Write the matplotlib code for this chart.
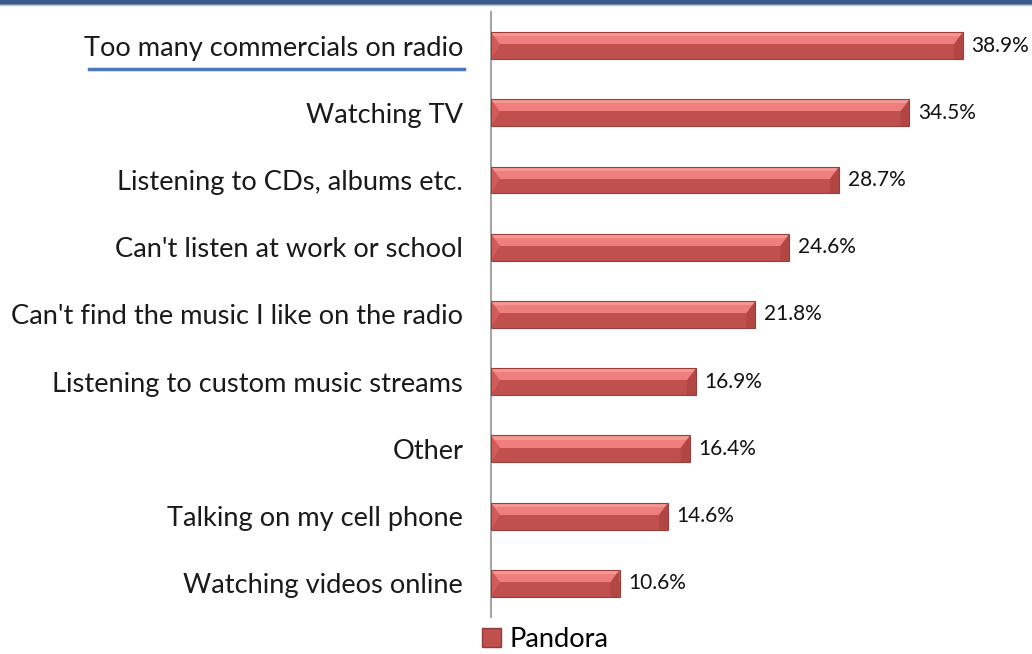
import numpy as np
import matplotlib
matplotlib.use("Agg")
import matplotlib.pyplot as plt
from matplotlib.patches import Polygon, Rectangle
from matplotlib.lines import Line2D

categories = [
    "Too many commercials on radio",
    "Watching TV",
    "Listening to CDs, albums etc.",
    "Can't listen at work or school",
    "Can't find the music I like on the radio",
    "Listening to custom music streams",
    "Other",
    "Talking on my cell phone",
    "Watching videos online",
]
values = [38.9, 34.5, 28.7, 24.6, 21.8, 16.9, 16.4, 14.6, 10.6]
series_name = "Pandora"

plt.rcParams['font.family'] = ['Lato', 'DejaVu Sans']

fig = plt.figure(figsize=(10.32, 6.54), dpi=100)
ax = fig.add_axes([491 / 1032, 37 / 654, 1 - 491 / 1032, 605 / 654])

y = np.arange(len(categories))
h = 0.40
bevel = 0.75  # bevel width in data units

for yi, v in zip(y, values):
    top, bot = yi - h / 2, yi + h / 2
    # base (darker lower half)
    ax.add_patch(Rectangle((0, top), v, h, facecolor='#c0504d', edgecolor='none', zorder=2))
    # lighter upper half
    ax.add_patch(Rectangle((0, top), v, h * 0.45, facecolor='#ee7f7c', edgecolor='none', zorder=3))
    ax.add_patch(Rectangle((0, top), v, h * 0.15, facecolor='#f69794', edgecolor='none', zorder=3))
    # left bevel
    ax.add_patch(Polygon([(0, top), (bevel, yi - h * 0.05), (0, bot)], closed=True,
                         facecolor='#d45b57', edgecolor='none', zorder=4))
    # right bevel
    ax.add_patch(Polygon([(v, top), (v - bevel, yi - h * 0.05), (v - bevel, bot), (v, bot)], closed=True,
                         facecolor='#b24643', edgecolor='none', zorder=4))
    # outline
    ax.add_patch(Rectangle((0, top), v, h, facecolor='none', edgecolor='#9a3e3c', linewidth=0.8, zorder=5))
    ax.text(v + 0.7, yi, f"{v:.1f}%", va='center', ha='left', fontsize=15, color='#111111')

ax.set_xlim(0, 44.6)
ax.set_ylim(len(categories) - 0.5, -0.5)
ax.set_yticks(y)
ax.set_yticklabels(categories, fontsize=19.6, color='#1a1a1a')
ax.tick_params(axis='y', length=0, pad=20)
ax.set_xticks([])
for s in ['top', 'right', 'bottom']:
    ax.spines[s].set_visible(False)
ax.spines['left'].set_color('#a6a6a6')
ax.spines['left'].set_linewidth(1.5)

# legend
handle = Rectangle((0, 0), 1, 1, facecolor='#c0504d', edgecolor='#8f3a38')
fig.legend([handle], [series_name], loc='lower center', bbox_to_anchor=(545 / 1032, 0.003),
           frameon=False, fontsize=19.6, handlelength=0.7, handleheight=0.7, handletextpad=0.3,
           borderpad=0, borderaxespad=0)

# top border and underline
fig.add_artist(Line2D([0, 1], [1 - 2 / 654, 1 - 2 / 654], color='#3b5a8a', linewidth=4))
fig.add_artist(Line2D([0, 1], [1 - 5 / 654, 1 - 5 / 654], color='#b8c7dc', linewidth=1))
fig.add_artist(Line2D([89 / 1032, 464 / 1032], [1 - 69 / 654, 1 - 69 / 654], color='#4a7ab8', linewidth=2.5))

fig.savefig("out.png", dpi=100)
